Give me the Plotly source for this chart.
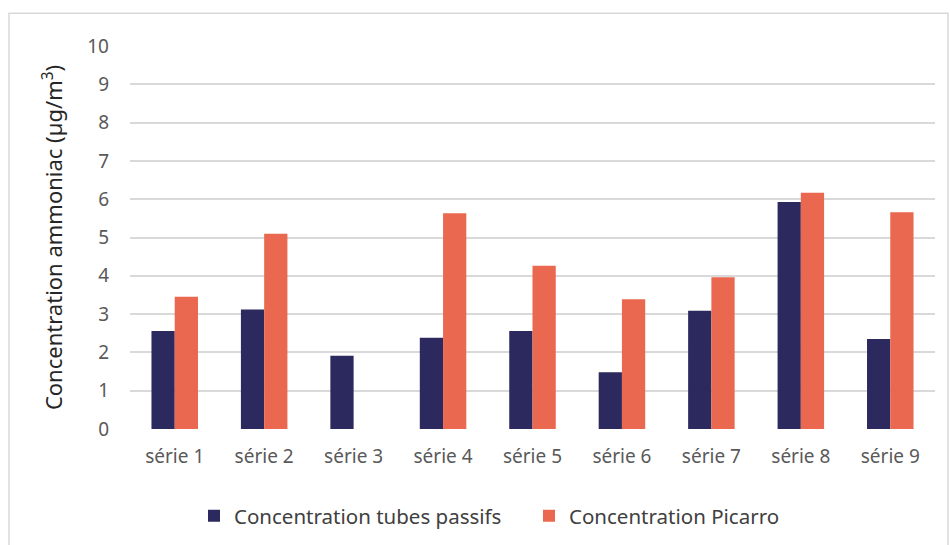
import plotly.graph_objects as go

categories = ["série 1", "série 2", "série 3", "série 4", "série 5", "série 6", "série 7", "série 8", "série 9"]
tubes_passifs = [2.56, 3.12, 1.91, 2.38, 2.56, 1.48, 3.09, 5.93, 2.35]
picarro = [3.45, 5.10, None, 5.63, 4.26, 3.39, 3.96, 6.17, 5.66]
y_ticks = list(range(0, 11))

FONT = "Noto Sans"
fig = go.Figure()
fig.add_trace(go.Bar(x=categories, y=tubes_passifs, name="Concentration tubes passifs",
                     marker=dict(color="#2C295E", line=dict(width=0))))
fig.add_trace(go.Bar(x=categories, y=picarro, name="Concentration Picarro",
                     marker=dict(color="#EA6750", line=dict(width=0))))

L, R, T, B = 130, 15, 45.7, 116
W, H = 950, 545
pw, ph = W - L - R, H - T - B

def px(x):
    return (x - L) / pw

def py(y):
    return (H - B - y) / ph

fig.update_layout(
    width=W, height=H,
    margin=dict(l=L, r=R, t=T, b=B, autoexpand=False),
    paper_bgcolor="white", plot_bgcolor="white",
    barmode="group", bargap=0.48, bargroupgap=0,
    font=dict(family=FONT, color="#595959", size=18),
    showlegend=True,
    legend=dict(orientation="h", x=px(194), xanchor="left", y=py(516), yanchor="middle",
                font=dict(family=FONT, size=20.5, color="#404040"),
                traceorder="normal", entrywidth=290, entrywidthmode="pixels"),
    xaxis=dict(showgrid=False, showline=False, ticks="", tickfont=dict(size=19, color="#595959"),
               zeroline=False, ticklabelstandoff=14),
    yaxis=dict(range=[0, 10], tickvals=y_ticks, showgrid=True, gridcolor="#D9D9D9", gridwidth=1.5,
               zeroline=False, showline=False, ticks="", ticklabelstandoff=20,
               tickfont=dict(size=19, color="#595959"),
               title=dict(text="Concentration ammoniac (µg/m<sup>3</sup>)", standoff=18,
                          font=dict(size=22, color="#262626"))),
    shapes=[dict(type="rect", xref="paper", yref="paper",
                 x0=px(9), x1=px(948), y0=py(560), y1=py(13),
                 line=dict(color="#D9D9D9", width=1.5), fillcolor="rgba(0,0,0,0)", layer="below")],
)

fig.write_html("out.html")
